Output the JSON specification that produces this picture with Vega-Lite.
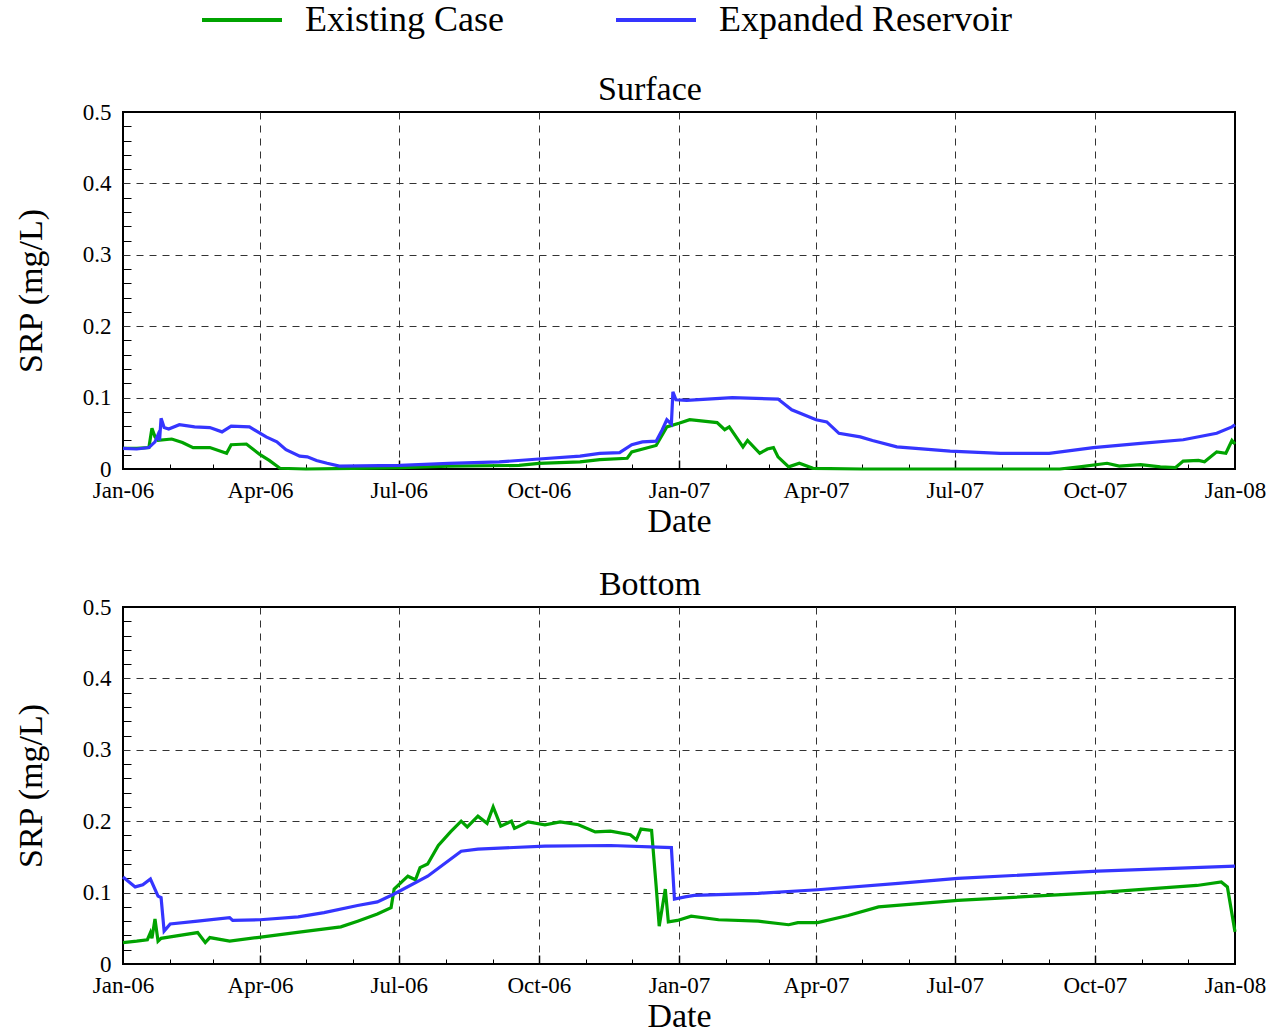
{
  "$schema": "https://vega.github.io/schema/vega-lite/v6.json",
  "padding": {"left": 13, "top": 2, "right": 2, "bottom": 0},
  "config": {
    "font": "Liberation Serif",
    "view": {"stroke": "black", "strokeWidth": 2},
    "axis": {"labelFont": "Liberation Serif", "titleFont": "Liberation Serif", "labelFontSize": 23, "titleFontSize": 34, "titleFontWeight": "normal", "labelColor": "black", "titleColor": "black"},
    "title": {"font": "Liberation Serif", "fontSize": 34, "fontWeight": "normal", "color": "black", "anchor": "middle", "frame": "bounds", "offset": -6, "dx": 10},
    "legend": {"labelFont": "Liberation Serif"}
  },
  "datasets": {
    "surface": [
      {"date": "2006-01-01", "series": "Existing Case", "srp": 0.029},
      {"date": "2006-01-10", "series": "Existing Case", "srp": 0.029},
      {"date": "2006-01-18", "series": "Existing Case", "srp": 0.030},
      {"date": "2006-01-20", "series": "Existing Case", "srp": 0.057},
      {"date": "2006-01-22", "series": "Existing Case", "srp": 0.045},
      {"date": "2006-01-24", "series": "Existing Case", "srp": 0.040},
      {"date": "2006-02-02", "series": "Existing Case", "srp": 0.042},
      {"date": "2006-02-09", "series": "Existing Case", "srp": 0.037},
      {"date": "2006-02-16", "series": "Existing Case", "srp": 0.030},
      {"date": "2006-02-27", "series": "Existing Case", "srp": 0.030},
      {"date": "2006-03-10", "series": "Existing Case", "srp": 0.022},
      {"date": "2006-03-13", "series": "Existing Case", "srp": 0.034},
      {"date": "2006-03-23", "series": "Existing Case", "srp": 0.035},
      {"date": "2006-04-01", "series": "Existing Case", "srp": 0.020},
      {"date": "2006-04-07", "series": "Existing Case", "srp": 0.012},
      {"date": "2006-04-14", "series": "Existing Case", "srp": 0.001},
      {"date": "2006-05-01", "series": "Existing Case", "srp": 0.000},
      {"date": "2006-06-01", "series": "Existing Case", "srp": 0.001},
      {"date": "2006-07-02", "series": "Existing Case", "srp": 0.002},
      {"date": "2006-08-03", "series": "Existing Case", "srp": 0.004},
      {"date": "2006-09-18", "series": "Existing Case", "srp": 0.005},
      {"date": "2006-10-01", "series": "Existing Case", "srp": 0.008},
      {"date": "2006-10-28", "series": "Existing Case", "srp": 0.010},
      {"date": "2006-11-10", "series": "Existing Case", "srp": 0.013},
      {"date": "2006-11-28", "series": "Existing Case", "srp": 0.015},
      {"date": "2006-12-01", "series": "Existing Case", "srp": 0.024},
      {"date": "2006-12-17", "series": "Existing Case", "srp": 0.033},
      {"date": "2006-12-24", "series": "Existing Case", "srp": 0.059},
      {"date": "2007-01-01", "series": "Existing Case", "srp": 0.064},
      {"date": "2007-01-08", "series": "Existing Case", "srp": 0.069},
      {"date": "2007-01-26", "series": "Existing Case", "srp": 0.065},
      {"date": "2007-01-31", "series": "Existing Case", "srp": 0.055},
      {"date": "2007-02-03", "series": "Existing Case", "srp": 0.059},
      {"date": "2007-02-12", "series": "Existing Case", "srp": 0.031},
      {"date": "2007-02-15", "series": "Existing Case", "srp": 0.040},
      {"date": "2007-02-23", "series": "Existing Case", "srp": 0.022},
      {"date": "2007-02-28", "series": "Existing Case", "srp": 0.028},
      {"date": "2007-03-04", "series": "Existing Case", "srp": 0.030},
      {"date": "2007-03-07", "series": "Existing Case", "srp": 0.017},
      {"date": "2007-03-14", "series": "Existing Case", "srp": 0.003},
      {"date": "2007-03-21", "series": "Existing Case", "srp": 0.008},
      {"date": "2007-03-30", "series": "Existing Case", "srp": 0.001},
      {"date": "2007-05-01", "series": "Existing Case", "srp": 0.000},
      {"date": "2007-07-01", "series": "Existing Case", "srp": 0.000},
      {"date": "2007-09-08", "series": "Existing Case", "srp": 0.000},
      {"date": "2007-09-21", "series": "Existing Case", "srp": 0.003},
      {"date": "2007-10-09", "series": "Existing Case", "srp": 0.008},
      {"date": "2007-10-17", "series": "Existing Case", "srp": 0.004},
      {"date": "2007-10-31", "series": "Existing Case", "srp": 0.006},
      {"date": "2007-11-13", "series": "Existing Case", "srp": 0.003},
      {"date": "2007-11-23", "series": "Existing Case", "srp": 0.002},
      {"date": "2007-11-28", "series": "Existing Case", "srp": 0.011},
      {"date": "2007-12-08", "series": "Existing Case", "srp": 0.012},
      {"date": "2007-12-12", "series": "Existing Case", "srp": 0.010},
      {"date": "2007-12-20", "series": "Existing Case", "srp": 0.024},
      {"date": "2007-12-26", "series": "Existing Case", "srp": 0.022},
      {"date": "2007-12-30", "series": "Existing Case", "srp": 0.040},
      {"date": "2008-01-01", "series": "Existing Case", "srp": 0.035},
      {"date": "2006-01-01", "series": "Expanded Reservoir", "srp": 0.029},
      {"date": "2006-01-10", "series": "Expanded Reservoir", "srp": 0.028},
      {"date": "2006-01-18", "series": "Expanded Reservoir", "srp": 0.030},
      {"date": "2006-01-22", "series": "Expanded Reservoir", "srp": 0.038},
      {"date": "2006-01-24", "series": "Expanded Reservoir", "srp": 0.048},
      {"date": "2006-01-25", "series": "Expanded Reservoir", "srp": 0.040},
      {"date": "2006-01-26", "series": "Expanded Reservoir", "srp": 0.071},
      {"date": "2006-01-28", "series": "Expanded Reservoir", "srp": 0.058},
      {"date": "2006-01-31", "series": "Expanded Reservoir", "srp": 0.056},
      {"date": "2006-02-07", "series": "Expanded Reservoir", "srp": 0.062},
      {"date": "2006-02-17", "series": "Expanded Reservoir", "srp": 0.059},
      {"date": "2006-02-27", "series": "Expanded Reservoir", "srp": 0.058},
      {"date": "2006-03-07", "series": "Expanded Reservoir", "srp": 0.052},
      {"date": "2006-03-13", "series": "Expanded Reservoir", "srp": 0.060},
      {"date": "2006-03-25", "series": "Expanded Reservoir", "srp": 0.059},
      {"date": "2006-04-05", "series": "Expanded Reservoir", "srp": 0.045},
      {"date": "2006-04-12", "series": "Expanded Reservoir", "srp": 0.038},
      {"date": "2006-04-18", "series": "Expanded Reservoir", "srp": 0.027},
      {"date": "2006-04-27", "series": "Expanded Reservoir", "srp": 0.018},
      {"date": "2006-05-02", "series": "Expanded Reservoir", "srp": 0.017},
      {"date": "2006-05-08", "series": "Expanded Reservoir", "srp": 0.012},
      {"date": "2006-05-15", "series": "Expanded Reservoir", "srp": 0.008},
      {"date": "2006-05-23", "series": "Expanded Reservoir", "srp": 0.004},
      {"date": "2006-07-02", "series": "Expanded Reservoir", "srp": 0.005},
      {"date": "2006-08-03", "series": "Expanded Reservoir", "srp": 0.008},
      {"date": "2006-09-05", "series": "Expanded Reservoir", "srp": 0.010},
      {"date": "2006-10-01", "series": "Expanded Reservoir", "srp": 0.014},
      {"date": "2006-10-28", "series": "Expanded Reservoir", "srp": 0.018},
      {"date": "2006-11-10", "series": "Expanded Reservoir", "srp": 0.022},
      {"date": "2006-11-23", "series": "Expanded Reservoir", "srp": 0.023},
      {"date": "2006-12-01", "series": "Expanded Reservoir", "srp": 0.034},
      {"date": "2006-12-08", "series": "Expanded Reservoir", "srp": 0.038},
      {"date": "2006-12-17", "series": "Expanded Reservoir", "srp": 0.039},
      {"date": "2006-12-21", "series": "Expanded Reservoir", "srp": 0.055},
      {"date": "2006-12-24", "series": "Expanded Reservoir", "srp": 0.069},
      {"date": "2006-12-27", "series": "Expanded Reservoir", "srp": 0.063},
      {"date": "2006-12-28", "series": "Expanded Reservoir", "srp": 0.108},
      {"date": "2006-12-30", "series": "Expanded Reservoir", "srp": 0.097},
      {"date": "2007-01-06", "series": "Expanded Reservoir", "srp": 0.096},
      {"date": "2007-02-05", "series": "Expanded Reservoir", "srp": 0.100},
      {"date": "2007-03-07", "series": "Expanded Reservoir", "srp": 0.098},
      {"date": "2007-03-16", "series": "Expanded Reservoir", "srp": 0.083},
      {"date": "2007-04-01", "series": "Expanded Reservoir", "srp": 0.069},
      {"date": "2007-04-08", "series": "Expanded Reservoir", "srp": 0.066},
      {"date": "2007-04-16", "series": "Expanded Reservoir", "srp": 0.050},
      {"date": "2007-04-30", "series": "Expanded Reservoir", "srp": 0.045},
      {"date": "2007-05-08", "series": "Expanded Reservoir", "srp": 0.040},
      {"date": "2007-05-24", "series": "Expanded Reservoir", "srp": 0.031},
      {"date": "2007-06-28", "series": "Expanded Reservoir", "srp": 0.025},
      {"date": "2007-07-31", "series": "Expanded Reservoir", "srp": 0.022},
      {"date": "2007-09-01", "series": "Expanded Reservoir", "srp": 0.022},
      {"date": "2007-09-30", "series": "Expanded Reservoir", "srp": 0.030},
      {"date": "2007-10-31", "series": "Expanded Reservoir", "srp": 0.036},
      {"date": "2007-11-28", "series": "Expanded Reservoir", "srp": 0.041},
      {"date": "2007-12-20", "series": "Expanded Reservoir", "srp": 0.050},
      {"date": "2007-12-30", "series": "Expanded Reservoir", "srp": 0.059},
      {"date": "2008-01-01", "series": "Expanded Reservoir", "srp": 0.062}
    ],
    "bottom": [
      {"date": "2006-01-01", "series": "Existing Case", "srp": 0.030},
      {"date": "2006-01-10", "series": "Existing Case", "srp": 0.032},
      {"date": "2006-01-17", "series": "Existing Case", "srp": 0.034},
      {"date": "2006-01-19", "series": "Existing Case", "srp": 0.044},
      {"date": "2006-01-20", "series": "Existing Case", "srp": 0.036},
      {"date": "2006-01-22", "series": "Existing Case", "srp": 0.063},
      {"date": "2006-01-24", "series": "Existing Case", "srp": 0.032},
      {"date": "2006-01-26", "series": "Existing Case", "srp": 0.036},
      {"date": "2006-02-01", "series": "Existing Case", "srp": 0.038},
      {"date": "2006-02-19", "series": "Existing Case", "srp": 0.044},
      {"date": "2006-02-24", "series": "Existing Case", "srp": 0.030},
      {"date": "2006-02-27", "series": "Existing Case", "srp": 0.037},
      {"date": "2006-03-12", "series": "Existing Case", "srp": 0.032},
      {"date": "2006-03-30", "series": "Existing Case", "srp": 0.037},
      {"date": "2006-04-28", "series": "Existing Case", "srp": 0.045},
      {"date": "2006-05-24", "series": "Existing Case", "srp": 0.052},
      {"date": "2006-06-04", "series": "Existing Case", "srp": 0.060},
      {"date": "2006-06-17", "series": "Existing Case", "srp": 0.070},
      {"date": "2006-06-26", "series": "Existing Case", "srp": 0.079},
      {"date": "2006-06-28", "series": "Existing Case", "srp": 0.105},
      {"date": "2006-07-07", "series": "Existing Case", "srp": 0.123},
      {"date": "2006-07-12", "series": "Existing Case", "srp": 0.118},
      {"date": "2006-07-15", "series": "Existing Case", "srp": 0.135},
      {"date": "2006-07-20", "series": "Existing Case", "srp": 0.140},
      {"date": "2006-07-27", "series": "Existing Case", "srp": 0.166},
      {"date": "2006-08-04", "series": "Existing Case", "srp": 0.185},
      {"date": "2006-08-11", "series": "Existing Case", "srp": 0.200},
      {"date": "2006-08-15", "series": "Existing Case", "srp": 0.192},
      {"date": "2006-08-22", "series": "Existing Case", "srp": 0.207},
      {"date": "2006-08-28", "series": "Existing Case", "srp": 0.197},
      {"date": "2006-09-01", "series": "Existing Case", "srp": 0.220},
      {"date": "2006-09-06", "series": "Existing Case", "srp": 0.193},
      {"date": "2006-09-13", "series": "Existing Case", "srp": 0.200},
      {"date": "2006-09-15", "series": "Existing Case", "srp": 0.190},
      {"date": "2006-09-24", "series": "Existing Case", "srp": 0.199},
      {"date": "2006-10-05", "series": "Existing Case", "srp": 0.195},
      {"date": "2006-10-15", "series": "Existing Case", "srp": 0.199},
      {"date": "2006-10-27", "series": "Existing Case", "srp": 0.195},
      {"date": "2006-11-07", "series": "Existing Case", "srp": 0.185},
      {"date": "2006-11-17", "series": "Existing Case", "srp": 0.186},
      {"date": "2006-11-30", "series": "Existing Case", "srp": 0.181},
      {"date": "2006-12-04", "series": "Existing Case", "srp": 0.174},
      {"date": "2006-12-07", "series": "Existing Case", "srp": 0.189},
      {"date": "2006-12-14", "series": "Existing Case", "srp": 0.187},
      {"date": "2006-12-17", "series": "Existing Case", "srp": 0.109},
      {"date": "2006-12-19", "series": "Existing Case", "srp": 0.053},
      {"date": "2006-12-23", "series": "Existing Case", "srp": 0.105},
      {"date": "2006-12-25", "series": "Existing Case", "srp": 0.059},
      {"date": "2006-12-31", "series": "Existing Case", "srp": 0.061},
      {"date": "2007-01-09", "series": "Existing Case", "srp": 0.067},
      {"date": "2007-01-27", "series": "Existing Case", "srp": 0.062},
      {"date": "2007-02-22", "series": "Existing Case", "srp": 0.060},
      {"date": "2007-03-14", "series": "Existing Case", "srp": 0.055},
      {"date": "2007-03-20", "series": "Existing Case", "srp": 0.058},
      {"date": "2007-04-02", "series": "Existing Case", "srp": 0.058},
      {"date": "2007-04-22", "series": "Existing Case", "srp": 0.068},
      {"date": "2007-05-12", "series": "Existing Case", "srp": 0.080},
      {"date": "2007-07-03", "series": "Existing Case", "srp": 0.089},
      {"date": "2007-10-03", "series": "Existing Case", "srp": 0.100},
      {"date": "2007-12-07", "series": "Existing Case", "srp": 0.110},
      {"date": "2007-12-23", "series": "Existing Case", "srp": 0.115},
      {"date": "2007-12-27", "series": "Existing Case", "srp": 0.108},
      {"date": "2008-01-01", "series": "Existing Case", "srp": 0.045},
      {"date": "2006-01-01", "series": "Expanded Reservoir", "srp": 0.122},
      {"date": "2006-01-09", "series": "Expanded Reservoir", "srp": 0.108},
      {"date": "2006-01-14", "series": "Expanded Reservoir", "srp": 0.111},
      {"date": "2006-01-19", "series": "Expanded Reservoir", "srp": 0.119},
      {"date": "2006-01-24", "series": "Expanded Reservoir", "srp": 0.095},
      {"date": "2006-01-26", "series": "Expanded Reservoir", "srp": 0.093},
      {"date": "2006-01-28", "series": "Expanded Reservoir", "srp": 0.046},
      {"date": "2006-02-01", "series": "Expanded Reservoir", "srp": 0.056},
      {"date": "2006-02-19", "series": "Expanded Reservoir", "srp": 0.060},
      {"date": "2006-03-12", "series": "Expanded Reservoir", "srp": 0.065},
      {"date": "2006-03-14", "series": "Expanded Reservoir", "srp": 0.061},
      {"date": "2006-04-01", "series": "Expanded Reservoir", "srp": 0.062},
      {"date": "2006-04-26", "series": "Expanded Reservoir", "srp": 0.066},
      {"date": "2006-05-13", "series": "Expanded Reservoir", "srp": 0.072},
      {"date": "2006-06-04", "series": "Expanded Reservoir", "srp": 0.082},
      {"date": "2006-06-17", "series": "Expanded Reservoir", "srp": 0.087},
      {"date": "2006-06-28", "series": "Expanded Reservoir", "srp": 0.098},
      {"date": "2006-07-20", "series": "Expanded Reservoir", "srp": 0.123},
      {"date": "2006-08-11", "series": "Expanded Reservoir", "srp": 0.158},
      {"date": "2006-08-22", "series": "Expanded Reservoir", "srp": 0.161},
      {"date": "2006-10-05", "series": "Expanded Reservoir", "srp": 0.165},
      {"date": "2006-11-17", "series": "Expanded Reservoir", "srp": 0.166},
      {"date": "2006-12-27", "series": "Expanded Reservoir", "srp": 0.163},
      {"date": "2006-12-29", "series": "Expanded Reservoir", "srp": 0.091},
      {"date": "2007-01-05", "series": "Expanded Reservoir", "srp": 0.094},
      {"date": "2007-01-11", "series": "Expanded Reservoir", "srp": 0.096},
      {"date": "2007-02-22", "series": "Expanded Reservoir", "srp": 0.099},
      {"date": "2007-04-02", "series": "Expanded Reservoir", "srp": 0.104},
      {"date": "2007-05-25", "series": "Expanded Reservoir", "srp": 0.113},
      {"date": "2007-07-03", "series": "Expanded Reservoir", "srp": 0.120},
      {"date": "2007-10-03", "series": "Expanded Reservoir", "srp": 0.130},
      {"date": "2008-01-01", "series": "Expanded Reservoir", "srp": 0.137}
    ]
  },
  "spacing": 28,
  "vconcat": [
    {
      "title": {"text": "Surface"},
      "width": 1112,
      "height": 357,
      "data": {"name": "surface"},
      "layer": [
        {
          "mark": {"type": "line", "strokeWidth": 3.2},
          "encoding": {
            "x": {"field": "date", "type": "temporal",
              "scale": {"type": "utc", "domain": [{"year": 2006, "month": 1, "date": 1, "utc": true}, {"year": 2008, "month": 1, "date": 1, "utc": true}]},
              "axis": {"orient": "bottom", "format": "%b-%y", "labelPadding": 10, "ticks": false, "grid": false, "domain": false, "labelFlush": false, "title": "Date", "titlePadding": 2,
                "values": [{"year": 2006, "month": 1, "date": 1, "utc": true}, {"year": 2006, "month": 4, "date": 1, "utc": true}, {"year": 2006, "month": 7, "date": 1, "utc": true}, {"year": 2006, "month": 10, "date": 1, "utc": true}, {"year": 2007, "month": 1, "date": 1, "utc": true}, {"year": 2007, "month": 4, "date": 1, "utc": true}, {"year": 2007, "month": 7, "date": 1, "utc": true}, {"year": 2007, "month": 10, "date": 1, "utc": true}, {"year": 2008, "month": 1, "date": 1, "utc": true}]}},
            "y": {"field": "srp", "type": "quantitative", "scale": {"domain": [0, 0.5], "nice": false},
              "axis": {"orient": "left", "values": [0, 0.1, 0.2, 0.3, 0.4, 0.5], "format": ".1~f", "ticks": false, "grid": false, "domain": false, "labelPadding": 12, "title": "SRP (mg/L)", "titlePadding": 34}},
            "color": {"field": "series", "type": "nominal",
              "scale": {"domain": ["Existing Case", "Expanded Reservoir"], "range": ["#00a300", "#3535ff"]},
              "legend": {"title": null, "orient": "none", "legendX": 101, "legendY": -110, "direction": "horizontal", "columns": 2, "symbolType": "M-4,0L4,0", "symbolSize": 400, "symbolStrokeWidth": 4, "labelFontSize": 36, "labelOffset": 45, "columnPadding": 104, "labelColor": "black", "padding": 0, "labelLimit": 500}}
          }
        },
        {
          "mark": {"type": "point", "opacity": 0},
          "encoding": {
            "x": {"field": "date", "type": "temporal",
              "axis": {"orient": "bottom", "labels": false, "grid": true, "gridDash": [7, 6], "gridColor": "#333333", "gridWidth": 1, "ticks": true, "tickSize": -9, "tickWidth": 1.5, "tickColor": "black", "domain": false, "title": null,
                "values": [{"year": 2006, "month": 4, "date": 1, "utc": true}, {"year": 2006, "month": 7, "date": 1, "utc": true}, {"year": 2006, "month": 10, "date": 1, "utc": true}, {"year": 2007, "month": 1, "date": 1, "utc": true}, {"year": 2007, "month": 4, "date": 1, "utc": true}, {"year": 2007, "month": 7, "date": 1, "utc": true}, {"year": 2007, "month": 10, "date": 1, "utc": true}]}},
            "y": {"field": "srp", "type": "quantitative",
              "axis": {"orient": "left", "values": [0.1, 0.2, 0.3, 0.4], "labels": false, "grid": true, "gridDash": [7, 6], "gridColor": "#333333", "gridWidth": 1, "ticks": false, "domain": false, "title": null}}
          }
        },
        {
          "mark": {"type": "point", "opacity": 0},
          "encoding": {
            "x": {"field": "date", "type": "temporal",
              "axis": {"orient": "bottom", "labels": false, "grid": false, "ticks": true, "tickSize": -5, "tickWidth": 1, "tickColor": "black", "domain": false, "title": null,
                "values": [{"year": 2006, "month": 2, "date": 1, "utc": true}, {"year": 2006, "month": 3, "date": 1, "utc": true}, {"year": 2006, "month": 5, "date": 1, "utc": true}, {"year": 2006, "month": 6, "date": 1, "utc": true}, {"year": 2006, "month": 8, "date": 1, "utc": true}, {"year": 2006, "month": 9, "date": 1, "utc": true}, {"year": 2006, "month": 11, "date": 1, "utc": true}, {"year": 2006, "month": 12, "date": 1, "utc": true}, {"year": 2007, "month": 2, "date": 1, "utc": true}, {"year": 2007, "month": 3, "date": 1, "utc": true}, {"year": 2007, "month": 5, "date": 1, "utc": true}, {"year": 2007, "month": 6, "date": 1, "utc": true}, {"year": 2007, "month": 8, "date": 1, "utc": true}, {"year": 2007, "month": 9, "date": 1, "utc": true}, {"year": 2007, "month": 11, "date": 1, "utc": true}, {"year": 2007, "month": 12, "date": 1, "utc": true}]}},
            "y": {"field": "srp", "type": "quantitative",
              "axis": {"orient": "left", "values": [0.02, 0.04, 0.06, 0.08, 0.12, 0.14, 0.16, 0.18, 0.22, 0.24, 0.26, 0.28, 0.32, 0.34, 0.36, 0.38, 0.42, 0.44, 0.46, 0.48], "labels": false, "grid": false, "ticks": true, "tickSize": -8, "tickWidth": 1, "tickColor": "black", "domain": false, "title": null}}
          }
        }
      ],
      "resolve": {"axis": {"x": "independent", "y": "independent"}}
    },
    {
      "title": {"text": "Bottom"},
      "width": 1112,
      "height": 357,
      "data": {"name": "bottom"},
      "layer": [
        {
          "mark": {"type": "line", "strokeWidth": 3.2},
          "encoding": {
            "x": {"field": "date", "type": "temporal",
              "scale": {"type": "utc", "domain": [{"year": 2006, "month": 1, "date": 1, "utc": true}, {"year": 2008, "month": 1, "date": 1, "utc": true}]},
              "axis": {"orient": "bottom", "format": "%b-%y", "labelPadding": 10, "ticks": false, "grid": false, "domain": false, "labelFlush": false, "title": "Date", "titlePadding": 2,
                "values": [{"year": 2006, "month": 1, "date": 1, "utc": true}, {"year": 2006, "month": 4, "date": 1, "utc": true}, {"year": 2006, "month": 7, "date": 1, "utc": true}, {"year": 2006, "month": 10, "date": 1, "utc": true}, {"year": 2007, "month": 1, "date": 1, "utc": true}, {"year": 2007, "month": 4, "date": 1, "utc": true}, {"year": 2007, "month": 7, "date": 1, "utc": true}, {"year": 2007, "month": 10, "date": 1, "utc": true}, {"year": 2008, "month": 1, "date": 1, "utc": true}]}},
            "y": {"field": "srp", "type": "quantitative", "scale": {"domain": [0, 0.5], "nice": false},
              "axis": {"orient": "left", "values": [0, 0.1, 0.2, 0.3, 0.4, 0.5], "format": ".1~f", "ticks": false, "grid": false, "domain": false, "labelPadding": 12, "title": "SRP (mg/L)", "titlePadding": 34}},
            "color": {"field": "series", "type": "nominal",
              "scale": {"domain": ["Existing Case", "Expanded Reservoir"], "range": ["#00a300", "#3535ff"]},
              "legend": {"title": null, "orient": "none", "legendX": 101, "legendY": -110, "direction": "horizontal", "columns": 2, "symbolType": "M-4,0L4,0", "symbolSize": 400, "symbolStrokeWidth": 4, "labelFontSize": 36, "labelOffset": 45, "columnPadding": 104, "labelColor": "black", "padding": 0, "labelLimit": 500}}
          }
        },
        {
          "mark": {"type": "point", "opacity": 0},
          "encoding": {
            "x": {"field": "date", "type": "temporal",
              "axis": {"orient": "bottom", "labels": false, "grid": true, "gridDash": [7, 6], "gridColor": "#333333", "gridWidth": 1, "ticks": true, "tickSize": -9, "tickWidth": 1.5, "tickColor": "black", "domain": false, "title": null,
                "values": [{"year": 2006, "month": 4, "date": 1, "utc": true}, {"year": 2006, "month": 7, "date": 1, "utc": true}, {"year": 2006, "month": 10, "date": 1, "utc": true}, {"year": 2007, "month": 1, "date": 1, "utc": true}, {"year": 2007, "month": 4, "date": 1, "utc": true}, {"year": 2007, "month": 7, "date": 1, "utc": true}, {"year": 2007, "month": 10, "date": 1, "utc": true}]}},
            "y": {"field": "srp", "type": "quantitative",
              "axis": {"orient": "left", "values": [0.1, 0.2, 0.3, 0.4], "labels": false, "grid": true, "gridDash": [7, 6], "gridColor": "#333333", "gridWidth": 1, "ticks": false, "domain": false, "title": null}}
          }
        },
        {
          "mark": {"type": "point", "opacity": 0},
          "encoding": {
            "x": {"field": "date", "type": "temporal",
              "axis": {"orient": "bottom", "labels": false, "grid": false, "ticks": true, "tickSize": -5, "tickWidth": 1, "tickColor": "black", "domain": false, "title": null,
                "values": [{"year": 2006, "month": 2, "date": 1, "utc": true}, {"year": 2006, "month": 3, "date": 1, "utc": true}, {"year": 2006, "month": 5, "date": 1, "utc": true}, {"year": 2006, "month": 6, "date": 1, "utc": true}, {"year": 2006, "month": 8, "date": 1, "utc": true}, {"year": 2006, "month": 9, "date": 1, "utc": true}, {"year": 2006, "month": 11, "date": 1, "utc": true}, {"year": 2006, "month": 12, "date": 1, "utc": true}, {"year": 2007, "month": 2, "date": 1, "utc": true}, {"year": 2007, "month": 3, "date": 1, "utc": true}, {"year": 2007, "month": 5, "date": 1, "utc": true}, {"year": 2007, "month": 6, "date": 1, "utc": true}, {"year": 2007, "month": 8, "date": 1, "utc": true}, {"year": 2007, "month": 9, "date": 1, "utc": true}, {"year": 2007, "month": 11, "date": 1, "utc": true}, {"year": 2007, "month": 12, "date": 1, "utc": true}]}},
            "y": {"field": "srp", "type": "quantitative",
              "axis": {"orient": "left", "values": [0.02, 0.04, 0.06, 0.08, 0.12, 0.14, 0.16, 0.18, 0.22, 0.24, 0.26, 0.28, 0.32, 0.34, 0.36, 0.38, 0.42, 0.44, 0.46, 0.48], "labels": false, "grid": false, "ticks": true, "tickSize": -8, "tickWidth": 1, "tickColor": "black", "domain": false, "title": null}}
          }
        }
      ],
      "resolve": {"axis": {"x": "independent", "y": "independent"}}
    }
  ]
}
